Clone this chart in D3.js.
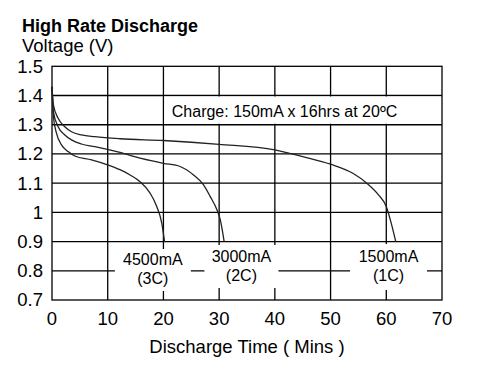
<!DOCTYPE html>
<html>
<head>
<meta charset="utf-8">
<script src="https://cdn.jsdelivr.net/npm/d3@7"></script>
<style>
  html, body { margin: 0; padding: 0; background: #fff; }
  svg { display: block; font-family: "Liberation Sans", Arial, sans-serif; }
</style>
</head>
<body>
<svg></svg>
<script>
(function (d3) {
  'use strict';

  // discharge curves (time in mins, voltage in V)
  const time1C = [0, 0.25, 1.1, 2.3, 3.5, 5.3, 7.7, 12.2, 20, 30, 40, 45, 50, 54, 56.5, 58.6, 60, 60.8, 61.7];
  const volt1C = [1.43, 1.368, 1.322, 1.293, 1.276, 1.265, 1.259, 1.252, 1.246, 1.233, 1.214, 1.191, 1.165, 1.134, 1.1, 1.06, 1.02, 0.969, 0.9];

  const time2C = [0, 0.25, 1.1, 2.3, 3.5, 5.3, 7.7, 12.2, 16, 20, 23, 25.4, 27.2, 28.4, 29.6, 30.2, 30.9];
  const volt2C = [1.43, 1.345, 1.293, 1.265, 1.248, 1.234, 1.225, 1.205, 1.185, 1.168, 1.157, 1.128, 1.094, 1.054, 1.009, 0.975, 0.9];

  const time3C = [0, 0.25, 0.8, 1.7, 2.9, 4.1, 7.1, 10.1, 12.2, 14, 15.8, 17.6, 18.8, 19.7, 20.2];
  const volt3C = [1.43, 1.328, 1.271, 1.231, 1.208, 1.193, 1.18, 1.162, 1.146, 1.128, 1.105, 1.066, 1.02, 0.963, 0.9];

  const xTicks = [0, 10, 20, 30, 40, 50, 60, 70];
  const yTicks = [0.7, 0.8, 0.9, 1.0, 1.1, 1.2, 1.3, 1.4, 1.5];

  const currents = ['4500mA', '3000mA', '1500mA'];
  const rates = ['(3C)', '(2C)', '(1C)'];

  const width = 477;
  const height = 370;
  const margin = { top: 66.3, right: 35, bottom: 70, left: 52 };
  const innerWidth = width - margin.left - margin.right;
  const innerHeight = height - margin.top - margin.bottom;

  const svg = d3.select('svg')
      .attr('width', width)
      .attr('height', height);

  const x = d3.scaleLinear().domain([0, 70]).range([0, innerWidth]);
  const y = d3.scaleLinear().domain([0.7, 1.5]).range([innerHeight, 0]);

  // titles
  svg.append('text')
      .attr('x', 22).attr('y', 32)
      .attr('font-size', 18)
      .attr('font-weight', 'bold')
      .text('High Rate Discharge');
  svg.append('text')
      .attr('x', 22).attr('y', 52)
      .attr('font-size', 18.5)
      .text('Voltage (V)');

  const g = svg.append('g')
      .attr('transform', `translate(${margin.left},${margin.top})`);

  // grid
  g.selectAll('.vgrid').data(xTicks.slice(1, -1))
    .enter().append('line')
      .attr('x1', d => x(d)).attr('x2', d => x(d))
      .attr('y1', 0).attr('y2', innerHeight)
      .attr('stroke', '#000').attr('stroke-width', 1.3);
  g.selectAll('.hgrid').data(yTicks.slice(1, -1))
    .enter().append('line')
      .attr('x1', 0).attr('x2', innerWidth)
      .attr('y1', d => y(d)).attr('y2', d => y(d))
      .attr('stroke', '#000').attr('stroke-width', 1.3);

  g.append('rect')
      .attr('width', innerWidth).attr('height', innerHeight)
      .attr('fill', 'none')
      .attr('stroke', '#000').attr('stroke-width', 1.3);

  // charge note, white band between 1.4 and 1.3
  g.append('rect')
      .attr('x', x(20) + 1).attr('y', y(1.4) + 1)
      .attr('width', x(70) - x(20) - 2)
      .attr('height', y(1.3) - y(1.4) - 2)
      .attr('fill', '#fff');
  g.append('text')
      .attr('x', x(21.5)).attr('y', y(1.4) + 21)
      .attr('font-size', 16)
      .text('Charge: 150mA x 16hrs at 20\u00BAC');

  // curve labels
  const labelPos = [
    { cx: x(18.1), top: 249, bottom: 291, w: 76, dy: 0 },
    { cx: x(34.0), top: 245, bottom: 288, w: 74, dy: -3 },
    { cx: x(60.4), top: 244, bottom: 290, w: 77, dy: -3 }
  ];

  const labels = g.selectAll('.lbl').data(currents)
    .enter().append('g');

  labels.append('rect')
      .attr('x', (d, i) => labelPos[i].cx - labelPos[i].w / 2)
      .attr('y', (d, i) => labelPos[i].top - margin.top)
      .attr('width', (d, i) => labelPos[i].w)
      .attr('height', (d, i) => labelPos[i].bottom - labelPos[i].top)
      .attr('fill', '#fff');
  labels.append('text')
      .attr('x', (d, i) => labelPos[i].cx)
      .attr('y', (d, i) => 265 - margin.top + labelPos[i].dy)
      .attr('text-anchor', 'middle')
      .attr('font-size', 16)
      .text(d => d);
  labels.append('text')
      .attr('x', (d, i) => labelPos[i].cx)
      .attr('y', (d, i) => 284 - margin.top + labelPos[i].dy)
      .attr('text-anchor', 'middle')
      .attr('font-size', 16)
      .text((d, i) => rates[i]);

  // curves
  const series = [
    d3.zip(time1C, volt1C),
    d3.zip(time2C, volt2C),
    d3.zip(time3C, volt3C)
  ];

  const line = d3.line()
      .x(d => x(d[0]))
      .y(d => y(d[1]))
      .curve(d3.curveMonotoneX);

  g.selectAll('.curve').data(series)
    .enter().append('path')
      .attr('d', line)
      .attr('fill', 'none')
      .attr('stroke', '#222')
      .attr('stroke-width', 1.3);

  // tick labels
  g.selectAll('.xt').data(xTicks)
    .enter().append('text')
      .attr('x', d => x(d))
      .attr('y', innerHeight + 25)
      .attr('text-anchor', 'middle')
      .attr('font-size', 18.5)
      .text(d => d);

  g.selectAll('.yt').data(yTicks)
    .enter().append('text')
      .attr('x', -9)
      .attr('y', d => y(d) + 6.5)
      .attr('text-anchor', 'end')
      .attr('font-size', 18.5)
      .text(d => +d.toFixed(1));

  svg.append('text')
      .attr('x', margin.left + innerWidth / 2)
      .attr('y', 353)
      .attr('text-anchor', 'middle')
      .attr('font-size', 18.5)
      .text('Discharge Time ( Mins )');

}(d3));
</script>
</body>
</html>
